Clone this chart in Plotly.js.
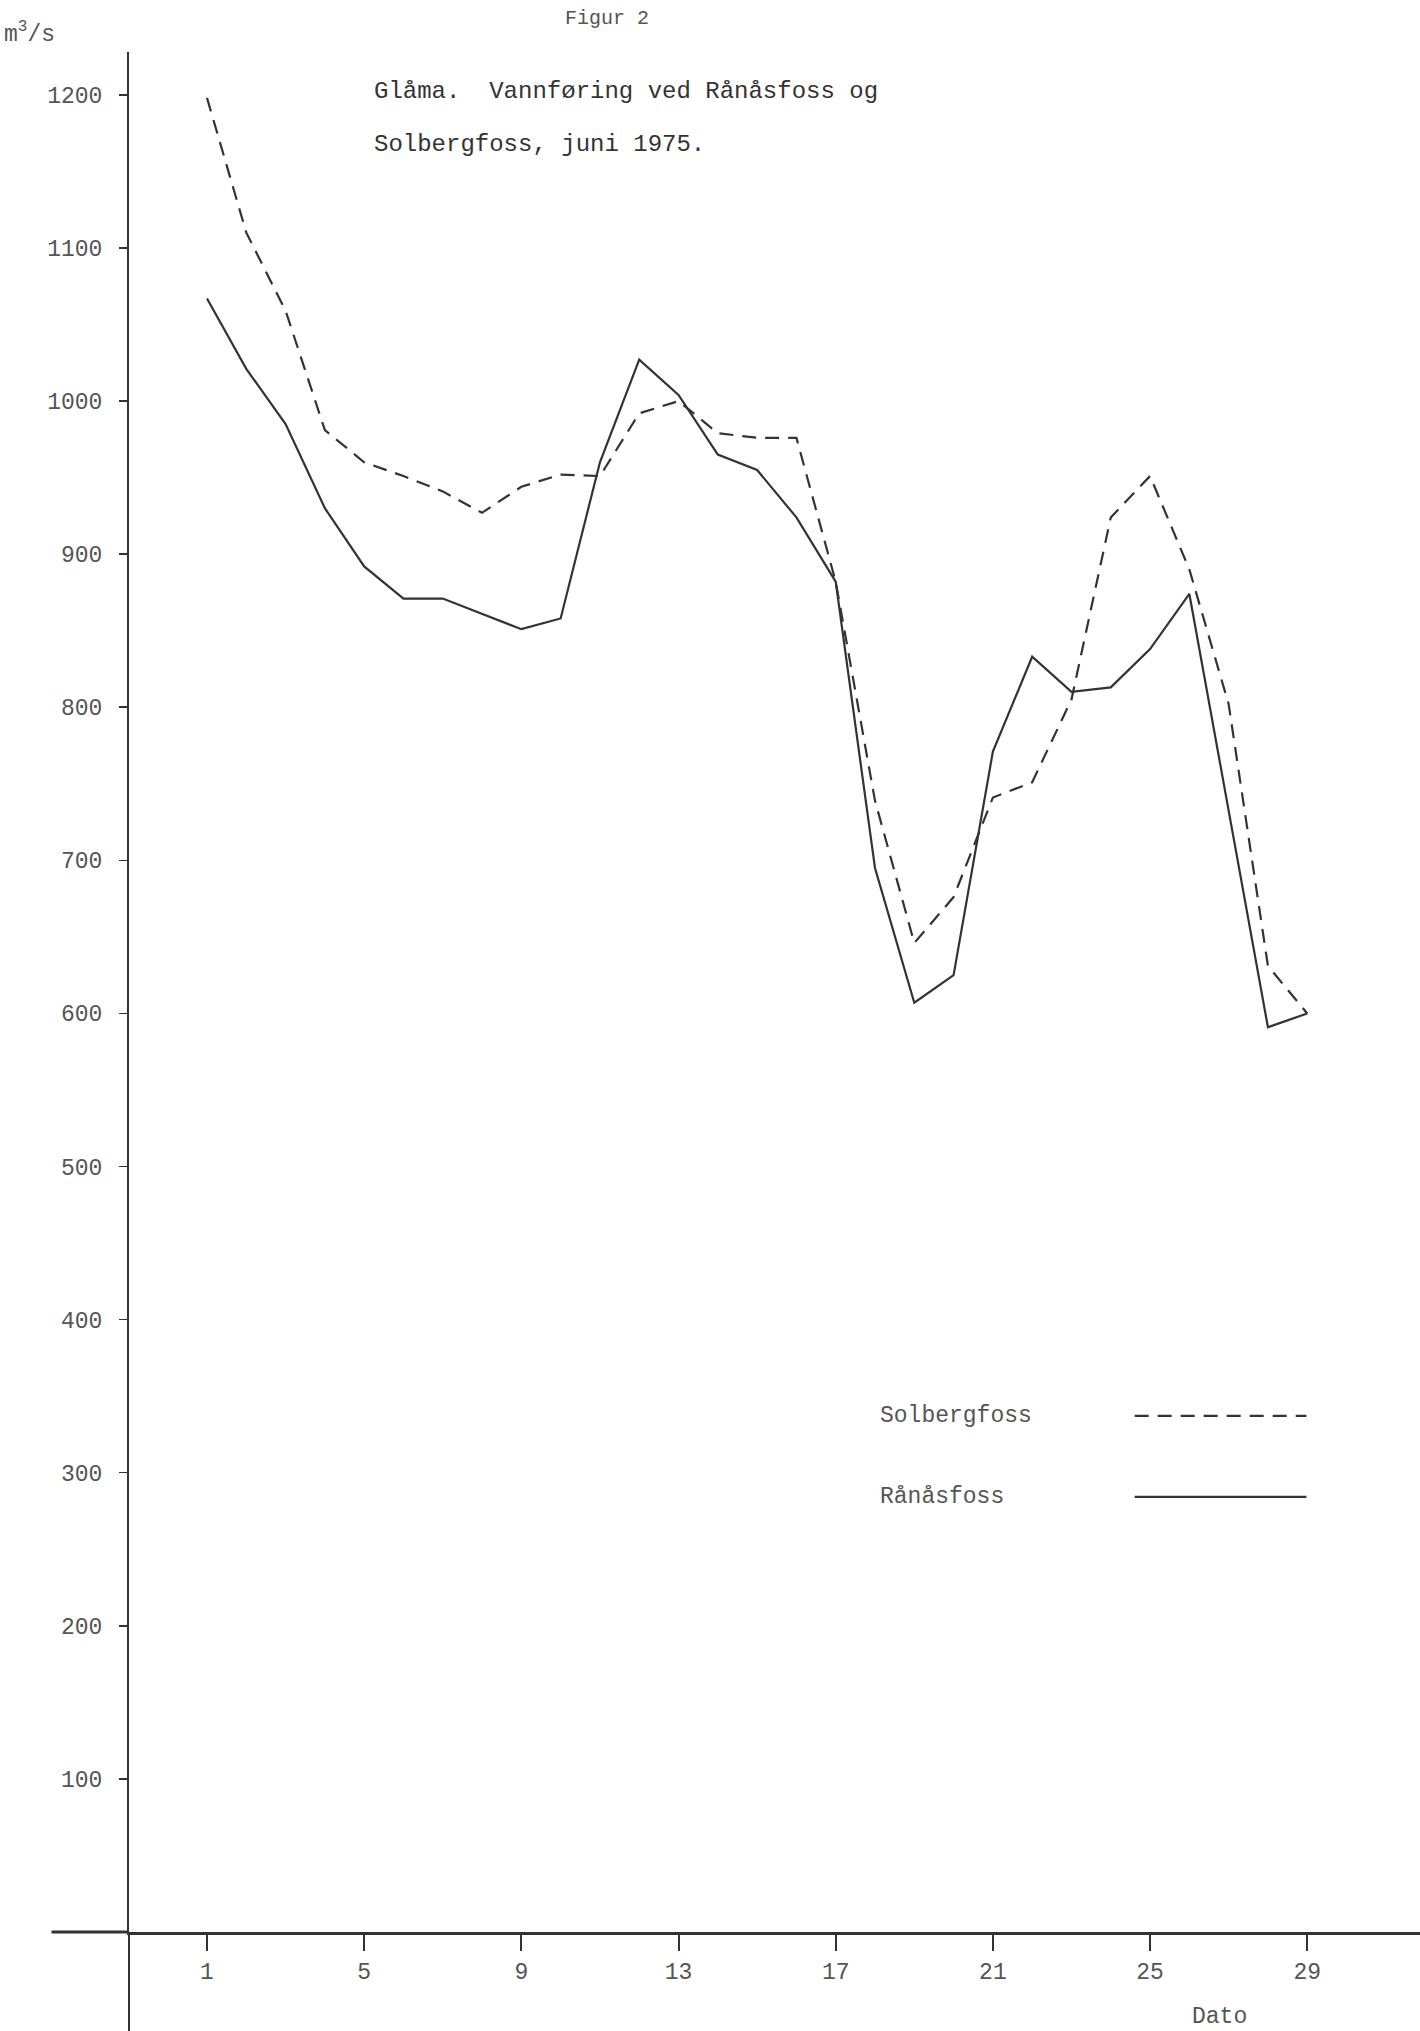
<!DOCTYPE html>
<html>
<head>
<meta charset="utf-8">
<script src="https://cdn.plot.ly/plotly-3.0.1.min.js"></script>
<style>body{margin:0;background:#fff}</style>
</head>
<body>
<div id="plotter" style="width:1420px;height:2031px"></div>
<script>
var days = [1,2,3,4,5,6,7,8,9,10,11,12,13,14,15,16,17,18,19,20,21,22,23,24,25,26,27,28,29];
var solbergfoss = [1198,1110,1059,981,960,951,941,927,944,952,951,992,1000,979,976,976,882,739,646,676,741,751,805,924,951,890,802,631,600];
var ranasfoss = [1067,1021,985,930,892,871,871,861,851,858,960,1027,1004,965,955,924,882,695,607,625,771,833,810,813,838,874,732,591,600];
var xTicks = [1,5,9,13,17,21,25,29];
var yTicks = [100,200,300,400,500,600,700,800,900,1000,1100,1200];

var ink = '#333';
var fnt = {family: 'Liberation Mono, DejaVu Sans Mono, monospace', size: 23, color: '#555'};

var plots = [
    {x: days, y: solbergfoss, type: 'scatter', mode: 'lines', name: 'Solbergfoss',
     line: {color: ink, width: 2.2, dash: '14px,9px'}},
    {x: days, y: ranasfoss, type: 'scatter', mode: 'lines', name: 'Rånåsfoss',
     line: {color: ink, width: 2.2}}
];

var layout = {
    width: 1420, height: 2031,
    showlegend: false,
    paper_bgcolor: '#fff', plot_bgcolor: '#fff',
    margin: {l: 129, r: 0, t: 52, b: 99},
    font: fnt,
    xaxis: {range: [-0.985, 31.87], tickvals: xTicks, ticks: 'outside', ticklen: 16, tickwidth: 2,
            tickcolor: ink, showgrid: false, zeroline: false, showline: true, linecolor: ink,
            linewidth: 3, tickfont: fnt},
    yaxis: {range: [0, 1228], tickvals: yTicks, ticks: 'outside', ticklen: 8, tickwidth: 1.5,
            tickcolor: ink, showgrid: false, zeroline: false, showline: true, linecolor: ink,
            linewidth: 2, tickfont: fnt, ticklabelstandoff: 12},
    shapes: [
        {type: 'line', xref: 'paper', yref: 'paper', x0: -0.06, x1: 0, y0: 0, y1: 0, line: {color: ink, width: 3}},
        {type: 'line', xref: 'paper', yref: 'paper', x0: 0, x1: 0, y0: 0, y1: -0.06, line: {color: ink, width: 2}},
        {type: 'line', xref: 'paper', yref: 'paper', x0: 0.779, x1: 0.912, y0: 0.2745, y1: 0.2745,
         line: {color: ink, width: 2.2, dash: '14px,9px'}},
        {type: 'line', xref: 'paper', yref: 'paper', x0: 0.779, x1: 0.912, y0: 0.2315, y1: 0.2315,
         line: {color: ink, width: 2.2}}
    ],
    annotations: [
        {xref: 'paper', yref: 'paper', x: 0.188, y: 0.979, xanchor: 'left', yanchor: 'middle', showarrow: false,
         align: 'left', font: {family: fnt.family, size: 24, color: '#333'},
         text: 'Glåma.  Vannføring ved Rånåsfoss og'},
        {xref: 'paper', yref: 'paper', x: 0.188, y: 0.951, xanchor: 'left', yanchor: 'middle', showarrow: false,
         align: 'left', font: {family: fnt.family, size: 24, color: '#333'},
         text: 'Solbergfoss, juni 1975.'},
        {xref: 'paper', yref: 'paper', x: 0.37, y: 1.018, xanchor: 'center', yanchor: 'middle', showarrow: false,
         font: {family: fnt.family, size: 20, color: '#555'}, text: 'Figur 2'},
        {xref: 'paper', yref: 'paper', x: -0.098, y: 1.01, xanchor: 'left', yanchor: 'middle', showarrow: false,
         font: fnt, text: 'm<sup>3</sup>/s'},
        {xref: 'paper', yref: 'paper', x: 0.845, y: -0.045, xanchor: 'center', yanchor: 'middle', showarrow: false,
         font: fnt, text: 'Dato'},
        {xref: 'paper', yref: 'paper', x: 0.58, y: 0.2745, xanchor: 'left', yanchor: 'middle', showarrow: false,
         font: fnt, text: 'Solbergfoss'},
        {xref: 'paper', yref: 'paper', x: 0.58, y: 0.2315, xanchor: 'left', yanchor: 'middle', showarrow: false,
         font: fnt, text: 'Rånåsfoss'}
    ]
};

Plotly.newPlot('plotter', plots, layout, {staticPlot: true});
</script>
</body>
</html>
